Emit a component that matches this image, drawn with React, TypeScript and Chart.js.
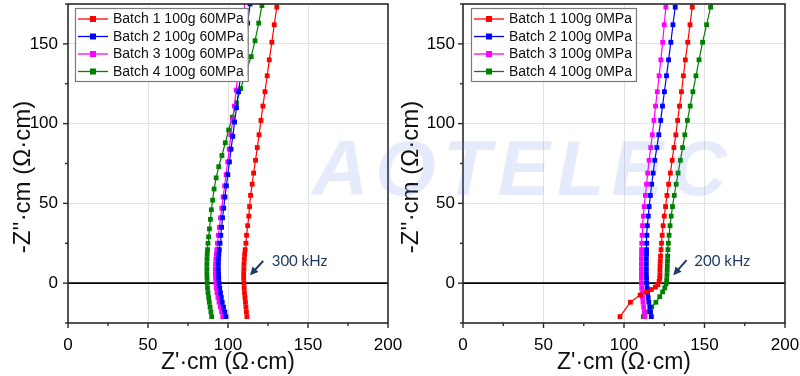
import React, { useEffect, useRef } from "react";
import { Chart, registerables } from "chart.js";

Chart.register(...registerables);

const FONT = '"Liberation Sans", Arial, sans-serif';
const NOTE_FONT = 'Lato, "Open Sans", sans-serif';

// ---------- axes ----------
const X_MIN = 0;
const X_MAX = 200;
const Y_MIN = -25;
const Y_MAX = 175;
const MAJOR_STEP = 50;
const MINOR_STEP = 25;
const X_TITLE = "Z'·cm (Ω·cm)";
const Y_TITLE = "-Z''·cm (Ω·cm)";

// ---------- series ----------
const SERIES_COLORS = ["#ff0000", "#0000ff", "#ff00ff", "#008000"];
const LEFT_LABELS = ["Batch 1 100g 60MPa", "Batch 2 100g 60MPa", "Batch 3 100g 60MPa", "Batch 4 100g 60MPa"];
const RIGHT_LABELS = ["Batch 1 100g 0MPa", "Batch 2 100g 0MPa", "Batch 3 100g 0MPa", "Batch 4 100g 0MPa"];

// 60 MPa
const B1_60_X = [111.8, 111.5, 111.2, 110.9, 110.6, 110.3, 110.1, 109.9, 109.8, 109.8, 109.9, 110, 110.2, 110.4, 110.7, 111.2, 111.6, 112.3, 113, 113.5, 114.1, 115.1, 116, 117.2, 118.3, 119.4, 120.6, 121.8, 123.1, 124.5, 125.8, 127.4, 128.9, 130.5, 131.9];
const B1_60_Y = [-21, -18, -15, -12, -9, -6, -3, 0, 3, 6, 9, 12, 15, 18, 21, 25, 30, 36, 42, 48, 55, 62, 69, 77, 85, 93, 102, 111, 120, 130, 140, 151, 162, 173, 183];

const B2_60_X = [98.7, 98, 97.2, 96.4, 95.8, 95.3, 94.8, 94.4, 94.2, 94.1, 94, 94, 94.1, 94.3, 94.6, 95, 95.5, 96, 96.6, 97.3, 98.1, 99, 99.9, 100.9, 101.9, 103, 104.1, 105.3, 106.6, 107.9, 109.3, 110.8, 112.3, 113.8, 115.2];
const B2_60_Y = [-21, -18, -15, -12, -9, -6, -3, 0, 3, 6, 9, 12, 15, 18, 21, 25, 30, 35, 41, 47, 54, 61, 68, 76, 84, 92, 101, 110, 120, 130, 141, 152, 163, 175, 186];

const B3_60_X = [96.7, 96, 95.2, 94.4, 93.7, 93.1, 92.7, 92.4, 92.2, 92.1, 92.1, 92.2, 92.4, 92.7, 93, 93.4, 94, 94.6, 95.3, 96.1, 97, 97.9, 98.8, 99.8, 100.8, 101.8, 102.9, 104, 105.1, 106.2, 107.3, 108.4, 109.5, 110.6, 111.7];
const B3_60_Y = [-21, -18, -15, -12, -9, -6, -3, 0, 3, 6, 9, 12, 15, 18, 21, 25, 30, 35, 41, 47, 54, 61, 68, 76, 84, 93, 102, 111, 121, 131, 142, 153, 165, 177, 188];

const B4_60_X = [89.8, 89.3, 88.8, 88.3, 87.9, 87.5, 87.2, 87, 86.9, 86.8, 86.8, 86.8, 86.9, 87, 87.2, 87.5, 87.9, 88.4, 89, 89.6, 90.4, 91.3, 92.6, 94.2, 96.2, 98.3, 100.4, 102.7, 105.3, 108, 111, 114.5, 116.9, 119.2, 121.2, 123];
const B4_60_Y = [-21, -18, -15, -12, -9, -6, -3, 0, 3, 6, 9, 12, 15, 18, 21, 25, 29, 34, 40, 46, 52, 59, 66, 73, 80, 88, 96, 104, 113, 122, 132, 142, 152, 163, 174, 185];

// 0 MPa
const B1_0_X = [97.5, 104, 110, 114, 117, 119.5, 121, 121.8, 122.2, 122.3, 122.3, 122.4, 122.5, 122.7, 123, 123.3, 123.7, 124.3, 125, 125.8, 126.7, 127.7, 128.8, 129.9, 131, 132.2, 133.3, 134.5, 135.7, 136.9, 138.1, 139.6, 141, 142.4, 143.8];
const B1_0_Y = [-21, -12, -7.5, -5.5, -4, -2.5, -1, 1, 3, 5, 8, 11, 14, 17, 21, 25, 30, 36, 42, 48, 55, 62, 69, 77, 85, 93, 102, 111, 120, 130, 140, 151, 162, 173, 184];

const B2_0_X = [117, 116.5, 116, 115.4, 115, 114.6, 114.3, 114.1, 114, 113.9, 113.9, 113.9, 113.9, 114, 114, 114.1, 114.2, 114.5, 115.1, 115.6, 116.4, 117.2, 118.1, 119.1, 120.4, 121.6, 122.8, 123.9, 125.1, 126.4, 127.7, 129.1, 130.4, 131.8, 133.2];
const B2_0_Y = [-21, -18, -15, -12, -9, -6, -3, 0, 3, 6, 9, 12, 15, 18, 21, 25, 30, 36, 42, 48, 55, 62, 69, 77, 85, 93, 102, 111, 120, 130, 140, 151, 162, 173, 184];

const B3_0_X = [113, 112.6, 112.2, 111.8, 111.5, 111.2, 111, 110.9, 110.8, 110.8, 110.8, 110.8, 110.8, 110.9, 110.9, 111, 111.2, 111.5, 112, 112.5, 113.3, 114, 114.7, 115.6, 116.6, 117.6, 118.6, 119.6, 120.7, 121.8, 122.9, 124, 125, 126, 127];
const B3_0_Y = [-21, -18, -15, -12, -9, -6, -3, 0, 3, 6, 9, 12, 15, 18, 21, 25, 30, 36, 42, 48, 55, 62, 69, 77, 85, 93, 102, 111, 120, 130, 140, 151, 162, 173, 184];

const B4_0_X = [112, 114.5, 117.2, 119.8, 122.2, 124, 125.3, 126.1, 126.5, 126.7, 126.8, 126.9, 127, 127.1, 127.3, 127.6, 128, 128.6, 129.3, 130.1, 131.2, 132.4, 133.6, 135, 136.4, 137.8, 139.4, 141.1, 142.8, 144.7, 146.6, 148.8, 151.3, 153.8, 156.3];
const B4_0_Y = [-21, -18, -15, -12, -8.5, -5.5, -3, -0.5, 2, 5, 8, 11, 14, 17, 21, 25, 30, 36, 42, 48, 55, 62, 69, 77, 85, 93, 102, 111, 120, 130, 140, 151, 162, 173, 184];

// ---------- annotations (data coordinates) ----------
const LEFT_NOTE = { text: "300 kHz", tx: 127.3, ty: 13.75, ax0: 122, ay0: 13.9, ax1: 113.75, ay1: 5 };
const RIGHT_NOTE = { text: "200 kHz", tx: 143.7, ty: 13.75, ax0: 138.9, ay0: 14.4, ax1: 130.6, ay1: 5 };

const WATERMARK = "AOTELEC";

function toPoints(xs: number[], ys: number[]) {
  return xs.map((x, i) => ({ x, y: ys[i] }));
}

function makeDatasets(labels: string[], series: [number[], number[]][]) {
  return series.map(([xs, ys], i) => ({
    label: labels[i],
    data: toPoints(xs, ys),
    showLine: true,
    borderColor: SERIES_COLORS[i],
    backgroundColor: SERIES_COLORS[i],
    borderWidth: 1.2,
    pointStyle: "rect",
    pointRadius: 3.4,
    pointBorderWidth: 0,
    tension: 0,
    clip: 0,
  }));
}

const decoPlugin = {
  id: "deco",
  beforeDatasetsDraw(chart: any) {
    const { ctx, chartArea: a, scales } = chart;
    const y0 = scales.y.getPixelForValue(0);
    ctx.save();
    ctx.strokeStyle = "#000";
    ctx.lineWidth = 1.6;
    ctx.beginPath();
    ctx.moveTo(a.left, y0);
    ctx.lineTo(a.right, y0);
    ctx.stroke();
    ctx.restore();
  },
  afterDatasetsDraw(chart: any, _args: any, opts: any) {
    const { ctx, chartArea: a, scales } = chart;
    const xs = scales.x;
    const ys = scales.y;
    ctx.save();

    // annotation
    const n = opts.note;
    const sx = xs.getPixelForValue(n.ax0), sy = ys.getPixelForValue(n.ay0);
    const ex = xs.getPixelForValue(n.ax1), ey = ys.getPixelForValue(n.ay1);
    const ang = Math.atan2(ey - sy, ex - sx);
    const navy = "#1f3a64";
    ctx.strokeStyle = navy;
    ctx.fillStyle = navy;
    ctx.lineWidth = 2;
    ctx.beginPath();
    ctx.moveTo(sx, sy);
    ctx.lineTo(ex - 5 * Math.cos(ang), ey - 5 * Math.sin(ang));
    ctx.stroke();
    ctx.beginPath();
    ctx.moveTo(ex, ey);
    ctx.lineTo(ex - 8 * Math.cos(ang) + 4 * Math.sin(ang), ey - 8 * Math.sin(ang) - 4 * Math.cos(ang));
    ctx.lineTo(ex - 8 * Math.cos(ang) - 4 * Math.sin(ang), ey - 8 * Math.sin(ang) + 4 * Math.cos(ang));
    ctx.closePath();
    ctx.fill();
    ctx.font = `15px ${NOTE_FONT}`;
    ctx.textAlign = "left";
    ctx.textBaseline = "middle";
    ctx.fillText(n.text, xs.getPixelForValue(n.tx), ys.getPixelForValue(n.ty));

    // legend
    const ds = chart.data.datasets;
    ctx.font = `14px ${FONT}`;
    const maxW = Math.max(...ds.map((d: any) => ctx.measureText(d.label).width));
    const bx = a.left + opts.legendDx;
    const by = a.top + 4;
    const bw = 38 + maxW + 4;
    const bh = 73;
    ctx.fillStyle = "#fff";
    ctx.fillRect(bx, by, bw, bh);
    ctx.strokeStyle = "#7a7a7a";
    ctx.lineWidth = 1.2;
    ctx.strokeRect(bx + 0.5, by + 0.5, bw, bh);
    ds.forEach((d: any, i: number) => {
      const cy = by + 11 + i * 17.5;
      ctx.strokeStyle = d.borderColor;
      ctx.lineWidth = 1.3;
      ctx.beginPath();
      ctx.moveTo(bx + 3, cy);
      ctx.lineTo(bx + 33, cy);
      ctx.stroke();
      ctx.fillStyle = d.borderColor;
      ctx.fillRect(bx + 15, cy - 3, 6, 6);
      ctx.fillStyle = "#111";
      ctx.textAlign = "left";
      ctx.textBaseline = "middle";
      ctx.fillText(d.label, bx + 38, cy + 0.5);
    });

    // frame
    ctx.strokeStyle = "#2a2a2a";
    ctx.lineWidth = 1.6;
    ctx.strokeRect(a.left, a.top, a.right - a.left, a.bottom - a.top);

    // tick marks
    ctx.lineWidth = 1.4;
    for (let v = X_MIN; v <= X_MAX; v += MINOR_STEP) {
      const p = xs.getPixelForValue(v);
      const len = v % MAJOR_STEP === 0 ? 5 : 3;
      ctx.beginPath();
      ctx.moveTo(p, a.bottom);
      ctx.lineTo(p, a.bottom + len);
      ctx.stroke();
    }
    for (let v = Y_MIN; v <= Y_MAX; v += MINOR_STEP) {
      const p = ys.getPixelForValue(v);
      const len = v % MAJOR_STEP === 0 ? 5 : 3;
      ctx.beginPath();
      ctx.moveTo(a.left, p);
      ctx.lineTo(a.left - len, p);
      ctx.stroke();
    }

    // axis titles
    ctx.fillStyle = "#111";
    ctx.font = `23px ${FONT}`;
    ctx.textAlign = "center";
    ctx.textBaseline = "alphabetic";
    ctx.fillText(X_TITLE, (a.left + a.right) / 2, a.bottom + 46);
    ctx.font = `24px ${FONT}`;
    ctx.translate(opts.yTitleX, opts.yTitleY);
    ctx.rotate(-Math.PI / 2);
    ctx.textBaseline = "middle";
    ctx.fillText(Y_TITLE, 0, 0);
    ctx.restore();
  },
};

function gridColor(v: number | undefined, lo: number, hi: number) {
  if (v === undefined) return "rgba(0,0,0,0)";
  if (v % MAJOR_STEP === 0 && v > lo && v < hi && v !== 0) return "#e2e2e2";
  return "rgba(0,0,0,0)";
}

function zeroPad(s: any) {
  s.paddingTop = 0;
  s.paddingBottom = 0;
  s.paddingLeft = 0;
  s.paddingRight = 0;
}

function buildConfig(p: {
  datasets: any[];
  yAxisWidth: number;
  padRight: number;
  yTickPad: number;
  legendDx: number;
  yTitleX: number;
  note: any;
}): any {
  return {
    type: "scatter",
    data: { datasets: p.datasets },
    plugins: [decoPlugin],
    options: {
      responsive: false,
      animation: false,
      devicePixelRatio: 1,
      layout: { padding: { left: 0, top: 3, right: p.padRight, bottom: 0 } },
      plugins: {
        legend: { display: false },
        tooltip: { enabled: false },
        deco: { legendDx: p.legendDx, yTitleX: p.yTitleX, yTitleY: 177, note: p.note },
      },
      scales: {
        x: {
          type: "linear",
          min: X_MIN,
          max: X_MAX,
          afterFit: (s: any) => {
            s.height = 53;
            zeroPad(s);
          },
          border: { display: false },
          grid: {
            color: (c: any) => gridColor(c.tick && c.tick.value, X_MIN, X_MAX),
            lineWidth: 1,
            drawTicks: true,
            tickLength: 5,
            tickColor: "rgba(0,0,0,0)",
          },
          ticks: {
            stepSize: MINOR_STEP,
            autoSkip: false,
            maxRotation: 0,
            padding: 7,
            color: "#000",
            font: { family: FONT, size: 17 },
            callback: (v: number) => (v % MAJOR_STEP === 0 ? String(v) : ""),
          },
        },
        y: {
          type: "linear",
          min: Y_MIN,
          max: Y_MAX,
          afterFit: (s: any) => {
            s.width = p.yAxisWidth;
            zeroPad(s);
          },
          border: { display: false },
          grid: {
            color: (c: any) => gridColor(c.tick && c.tick.value, Y_MIN, Y_MAX),
            lineWidth: 1,
            drawTicks: true,
            tickLength: 5,
            tickColor: "rgba(0,0,0,0)",
          },
          ticks: {
            stepSize: MINOR_STEP,
            autoSkip: false,
            padding: p.yTickPad,
            color: "#000",
            font: { family: FONT, size: 17 },
            callback: (v: number) => (v % MAJOR_STEP === 0 ? String(v) : ""),
          },
        },
      },
    },
  };
}

function Panel({ left, width, build }: { left: number; width: number; build: () => any }) {
  const ref = useRef<HTMLCanvasElement>(null);
  useEffect(() => {
    const chart = new Chart(ref.current as HTMLCanvasElement, build());
    return () => chart.destroy();
  }, []);
  return (
    <canvas
      ref={ref}
      width={width}
      height={376}
      style={{ position: "absolute", left, top: 0, width, height: 376 }}
    />
  );
}

export default function App() {
  const buildLeft = () =>
    buildConfig({
      datasets: makeDatasets(LEFT_LABELS, [
        [B1_60_X, B1_60_Y],
        [B2_60_X, B2_60_Y],
        [B3_60_X, B3_60_Y],
        [B4_60_X, B4_60_Y],
      ]),
      yAxisWidth: 68,
      padRight: 22,
      yTickPad: 5,
      legendDx: 7,
      yTitleX: 23,
      note: LEFT_NOTE,
    });
  const buildRight = () =>
    buildConfig({
      datasets: makeDatasets(RIGHT_LABELS, [
        [B1_0_X, B1_0_Y],
        [B2_0_X, B2_0_Y],
        [B3_0_X, B3_0_Y],
        [B4_0_X, B4_0_Y],
      ]),
      yAxisWidth: 73,
      padRight: 15,
      yTickPad: 3,
      legendDx: 8,
      yTitleX: 21,
      note: RIGHT_NOTE,
    });
  return (
    <div style={{ position: "fixed", left: 0, top: 0, width: 800, height: 376, background: "#fff", overflow: "hidden" }}>
      <Panel left={0} width={410} build={buildLeft} />
      <Panel left={390} width={410} build={buildRight} />
      <div
        style={{
          position: "absolute",
          left: 312,
          top: 129,
          fontFamily: FONT,
          fontStyle: "italic",
          fontWeight: 700,
          fontSize: 78,
          lineHeight: "78px",
          letterSpacing: 7,
          color: "rgba(80,120,225,0.15)",
          pointerEvents: "none",
          whiteSpace: "nowrap",
        }}
      >
        {WATERMARK}
      </div>
    </div>
  );
}
